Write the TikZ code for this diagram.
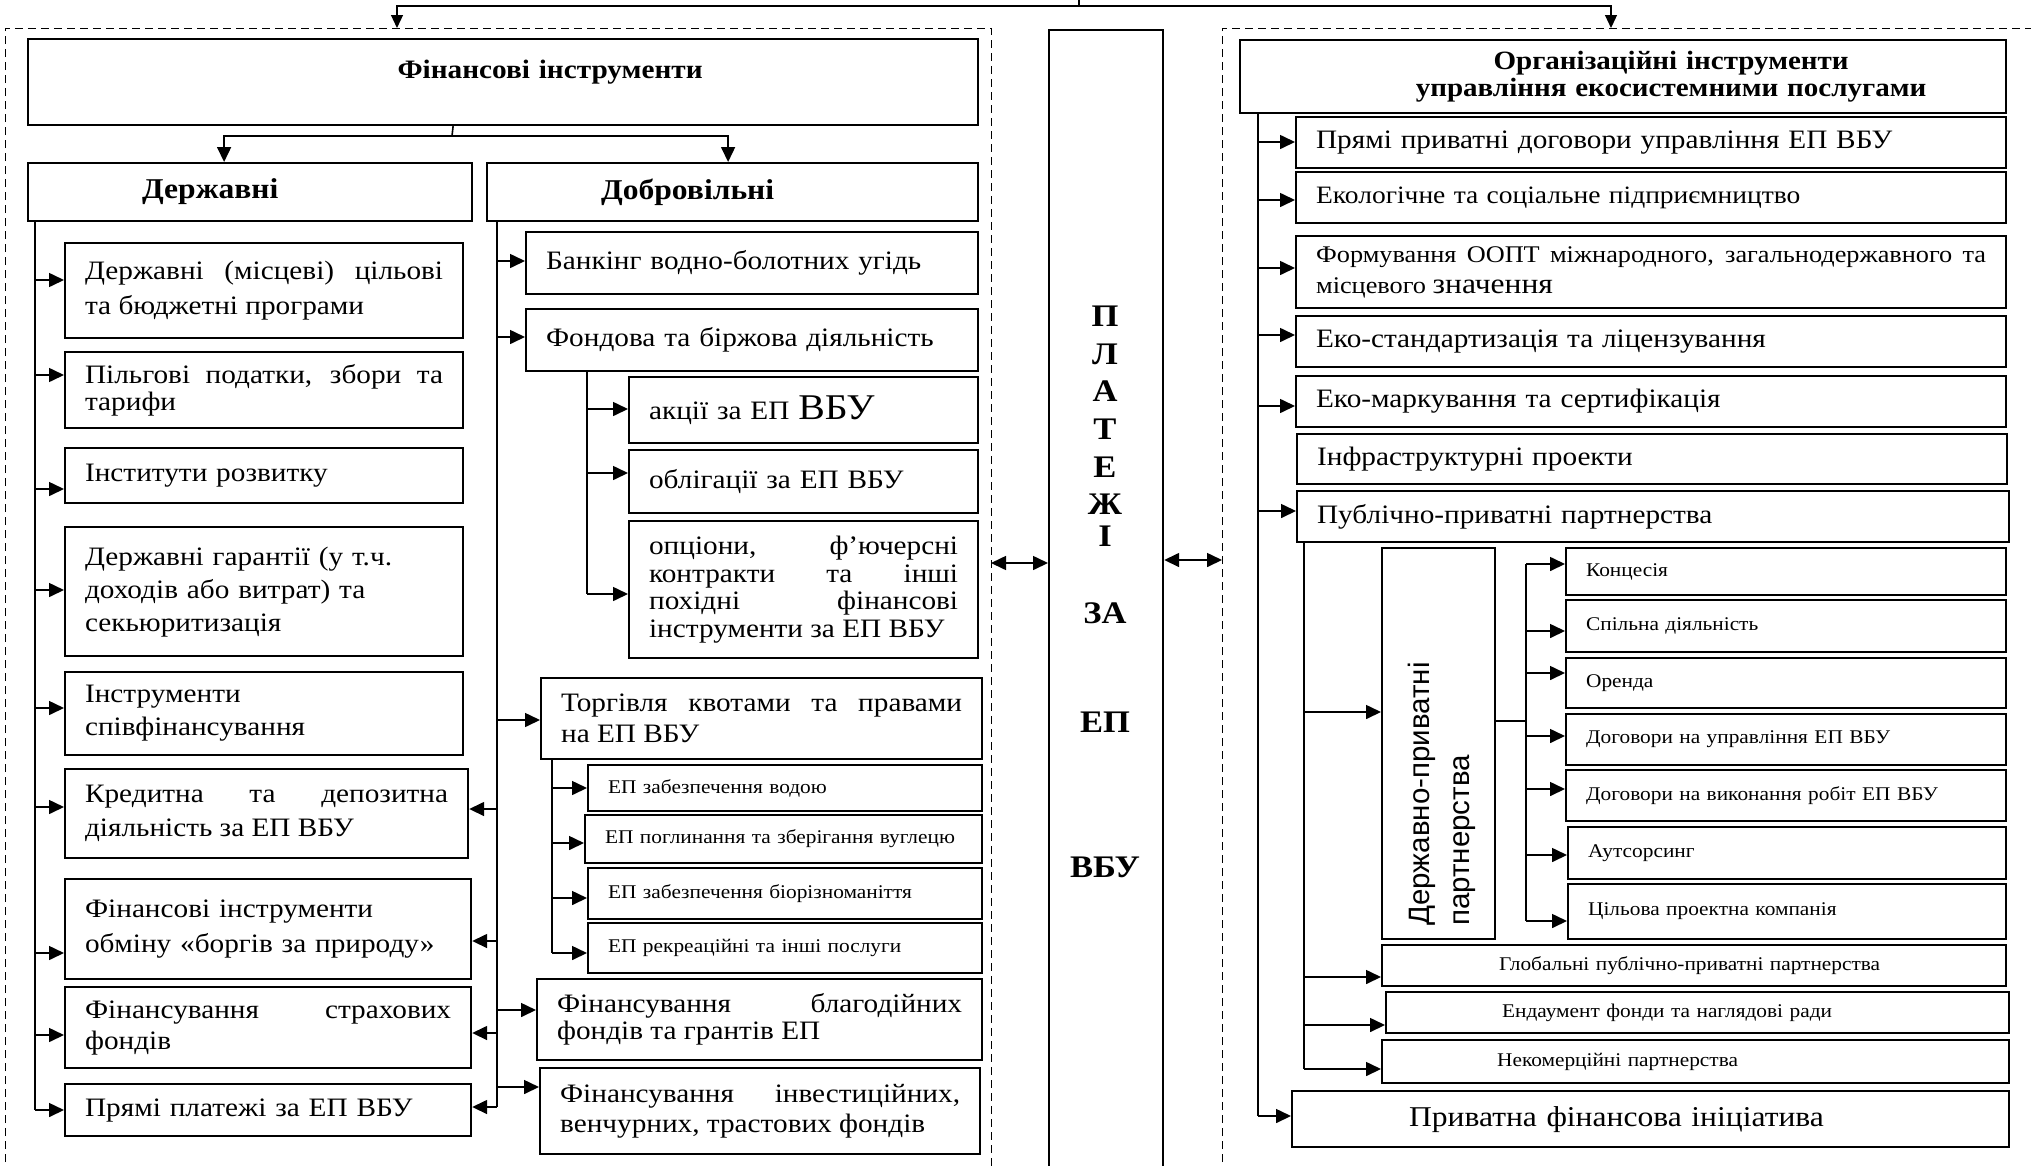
\documentclass[tikz,border=0pt]{standalone}
\usepackage{fontspec}
\setmainfont{Liberation Serif}[FakeStretch=1.1]
\setsansfont{Liberation Sans}
\usetikzlibrary{arrows.meta}
\newcommand\fz[2]{\fontsize{#1pt}{#2pt}\selectfont}
\tikzset{
  box/.style={draw, line width=2.2pt, rectangle, anchor=north west, inner ysep=0pt,
              inner xsep=20pt, align=left, font=\fz{26.6}{30}},
  jbox/.style={box, align=justify},
  conn/.style={line width=1.6pt},
  arr/.style={conn, -{Triangle[length=15pt,width=14pt]}},
  darr/.style={conn, {Triangle[length=15pt,width=14pt]}-{Triangle[length=15pt,width=14pt]}},
  tline/.style={line width=1.2pt},
  tarr/.style={tline, -{Triangle[length=13pt,width=12pt]}},
  frame/.style={line width=1pt, dash pattern=on 8pt off 5pt},
  small/.style={font=\fz{19.4}{22}},
}
\begin{document}
\begin{tikzpicture}[x=1pt,y=-1pt]
\useasboundingbox (0,0) rectangle (2031,1165);
\clip (0,0) rectangle (2031,1165);

% dashed frames of the two instrument groups
\draw[frame] (5,1175) -- (5,28) -- (991,28) -- (991,1175);
\draw[frame] (1222,1175) -- (1222,28) -- (2045,28);

% ---------------- financial instruments ----------------
\node[box, text width=910pt, minimum height=86pt, align=center, font=\bfseries\fz{26.6}{30},
      text height=10pt, text depth=18pt] (fin) at (27,38) {\hspace*{94pt}Фінансові інструменти};
\node[box, text width=404pt, minimum height=58pt, font=\bfseries\fz{28.7}{32}]
      (derzh) at (27,162) {\hspace*{94pt}Державні};
\node[box, text width=451pt, minimum height=58pt, font=\bfseries\fz{28.7}{32}]
      (dobr) at (486,162) {\hspace*{94pt}Добровільні};

% state instruments
\node[jbox, text width=358pt, minimum height=95pt, font=\fz{26.6}{35}] (l1) at (64,242)
  {Державні (місцеві) цільові\linebreak та бюджетні програми};
\node[jbox, text width=358pt, minimum height=76pt, font=\fz{26.6}{27}] (l2) at (64,351)
  {Пільгові податки, збори та\linebreak тарифи};
\node[box, text width=358pt, minimum height=55pt] (l3) at (64,447) {Інститути розвитку};
\node[box, text width=358pt, minimum height=129pt, font=\fz{26.6}{33}] (l4) at (64,526)
  {Державні гарантії (у т.ч.\\доходів або витрат) та\\секьюритизація};
\node[box, text width=358pt, minimum height=83pt, font=\fz{26.6}{33}] (l5) at (64,671)
  {Інструменти\\співфінансування};
\node[jbox, text width=363pt, minimum height=89pt, font=\fz{26.6}{34}] (l6) at (64,768)
  {Кредитна та депозитна\linebreak діяльність за ЕП ВБУ};
\node[box, text width=366pt, minimum height=100pt, font=\fz{26.6}{35}] (l7) at (64,878)
  {Фінансові інструменти\\обміну «боргів за природу»};
\node[jbox, text width=366pt, minimum height=81pt, font=\fz{26.6}{31}] (l8) at (64,986)
  {Фінансування страхових\linebreak фондів};
\node[box, text width=366pt, minimum height=52pt] (l9) at (64,1083) {Прямі платежі за ЕП ВБУ};

% voluntary instruments
\node[box, text width=412pt, minimum height=62pt] (r1) at (525,231) {Банкінг водно-болотних угідь};
\node[box, text width=412pt, minimum height=62pt] (r2) at (525,308) {Фондова та біржова діяльність};
\node[box, text width=309pt, minimum height=66pt] (r3) at (628,376) {акції за ЕП {\fz{36.2}{36}ВБУ}};
\node[box, text width=309pt, minimum height=63pt] (r4) at (628,449) {облігації за ЕП ВБУ};
\node[jbox, text width=309pt, minimum height=137pt, font=\fz{26.6}{27.5}] (r5) at (628,520)
  {опціони, ф’ючерсні\linebreak контракти та інші\linebreak похідні фінансові\linebreak інструменти за ЕП ВБУ};
\node[jbox, text width=401pt, minimum height=81pt, font=\fz{26.6}{31}] (r6) at (540,677)
  {Торгівля квотами та правами\linebreak на ЕП ВБУ};
\node[box, small, text width=354pt, minimum height=46pt] (s1) at (587,764) {ЕП забезпечення водою};
\node[box, small, text width=357pt, minimum height=48pt] (s2) at (584,814) {ЕП поглинання та зберігання вуглецю};
\node[box, small, text width=354pt, minimum height=51pt] (s3) at (587,867) {ЕП забезпечення біорізноманіття};
\node[box, small, text width=354pt, minimum height=50pt] (s4) at (587,922) {ЕП рекреаційні та інші послуги};
\node[jbox, text width=405pt, minimum height=81pt, font=\fz{26.6}{27}] (r7) at (536,978)
  {Фінансування благодійних\linebreak фондів та грантів ЕП};
\node[jbox, text width=400pt, minimum height=86pt, font=\fz{26.6}{30}] (r8) at (539,1067)
  {Фінансування інвестиційних,\linebreak венчурних, трастових фондів};

% ---------------- payments column ----------------
\node[draw, line width=2.2pt, anchor=north west, minimum width=114pt, minimum height=1170pt,
      inner sep=0pt] (pay) at (1048,29) {};
\node[anchor=north, inner sep=0pt, align=center, font=\bfseries\fz{31.4}{37.6}] (paytxt) at (1105,306)
  {П\\Л\\А\\Т\\Е\\Ж\\[-6pt]І\\[39.4pt]ЗА\\[71.4pt]ЕП\\[108pt]ВБУ};

% ---------------- organisational instruments ----------------
\node[box, text width=726pt, minimum height=73pt, align=center, font=\bfseries\fz{26.4}{27}] (org) at (1239,39)
  {\hspace*{96pt}Організаційні інструменти\\\hspace*{96pt}управління екосистемними послугами};
\node[box, text width=670pt, minimum height=51pt] (R1) at (1295,116) {Прямі приватні договори управління ЕП ВБУ};
\node[box, text width=670pt, minimum height=51pt, font=\fz{25}{28}] (R2) at (1295,171) {Екологічне та соціальне підприємництво};
\node[jbox, text width=670pt, minimum height=72pt, font=\fz{23.9}{31}] (R3) at (1295,235)
  {Формування ООПТ міжнародного, загальнодержавного та\linebreak місцевого {\fz{28.7}{31}значення}};
\node[box, text width=670pt, minimum height=51pt] (R4) at (1295,315) {Еко-стандартизація та ліцензування};
\node[box, text width=670pt, minimum height=51pt] (R5) at (1295,375) {Еко-маркування та сертифікація};
\node[box, text width=670pt, minimum height=50pt] (R6) at (1296,433) {Інфраструктурні проекти};
\node[box, text width=672pt, minimum height=51pt] (R7) at (1296,490) {Публічно-приватні партнерства};

\node[draw, line width=2.2pt, anchor=north west, minimum width=113pt, minimum height=391pt,
      inner sep=0pt] (dpp) at (1381,547) {};
\node[rotate=90, anchor=west, inner sep=0pt, align=left, font=\sffamily\fz{29.5}{40}] (dpptxt)
  at (1442,926) {Державно-приватні\\партнерства};

\node[box, small, text width=400pt, minimum height=47pt] (c1) at (1565,547) {Концесія};
\node[box, small, text width=400pt, minimum height=52pt] (c2) at (1565,599) {Спільна діяльність};
\node[box, small, text width=400pt, minimum height=50pt] (c3) at (1565,657) {Оренда};
\node[box, small, text width=400pt, minimum height=51pt] (c4) at (1565,713) {Договори на управління ЕП ВБУ};
\node[box, small, text width=400pt, minimum height=51pt] (c5) at (1565,769) {Договори на виконання робіт ЕП ВБУ};
\node[box, small, text width=398pt, minimum height=52pt] (c6) at (1567,826) {Аутсорсинг};
\node[box, small, text width=398pt, minimum height=55pt] (c7) at (1567,883) {Цільова проектна компанія};

\node[box, small, text width=584pt, minimum height=41pt] (gl) at (1381,944)
  {\hspace*{97pt}Глобальні публічно-приватні партнерства};
\node[box, small, text width=583pt, minimum height=41pt] (en) at (1385,991)
  {\hspace*{96pt}Ендаумент фонди та наглядові ради};
\node[box, small, text width=587pt, minimum height=43pt] (nk) at (1381,1039)
  {\hspace*{95pt}Некомерційні партнерства};
\node[box, text width=677pt, minimum height=56pt, font=\fz{28.7}{32}] (pfi) at (1291,1090)
  {\hspace*{97pt}Приватна фінансова ініціатива};

% ---------------- connectors ----------------
% common source at the top
\coordinate (src) at (1079,-5);
\coordinate (jn) at (1079,6);
\coordinate (topL) at (397,28);
\coordinate (topR) at (1611,28);
\draw[tline] (src) -- (jn);
\draw[tarr] (jn) -| (topL);
\draw[tarr] (jn) -| (topR);

% financial instruments split
\coordinate (fs) at (452,136);
\draw[conn] ([xshift=-50pt]fin.south) -- (fs);
\draw[arr] (fs) -| ([xshift=-26pt]derzh.north);
\draw[arr] (fs) -| ([xshift=-4.5pt]dobr.north);

% state trunk
\coordinate (tL) at (35,220);
\draw[conn] (tL) -- (tL |- 0,1110);
\foreach \n/\y in {l1/280, l2/375, l3/489, l4/590, l5/708, l6/807, l7/953, l8/1035, l9/1110}
  \draw[arr] (tL |- 0,\y) -- (\n.west |- 0,\y);

% voluntary trunk
\coordinate (tR) at (497,220);
\draw[conn] (tR) -- (tR |- 0,1107);
\foreach \n/\y in {r1/261, r2/337, r6/720, r7/1010, r8/1087}
  \draw[arr] (tR |- 0,\y) -- (\n.west |- 0,\y);
\foreach \n/\y in {l6/809, l7/941, l8/1033, l9/1107}
  \draw[arr] (tR |- 0,\y) -- (\n.east |- 0,\y);

% stock exchange branch
\coordinate (tF) at (587,370);
\draw[conn] (tF) -- (tF |- 0,594);
\foreach \n/\y in {r3/409, r4/473, r5/594}
  \draw[arr] (tF |- 0,\y) -- (\n.west |- 0,\y);

% quota trading branch
\coordinate (tT) at (552,758);
\draw[conn] (tT) -- (tT |- 0,953);
\foreach \n/\y in {s1/788, s2/843, s3/898, s4/953}
  \draw[arr] (tT |- 0,\y) -- (\n.west |- 0,\y);

% payments link
\coordinate (fL) at (991,563);
\coordinate (fR) at (1222,560);
\draw[darr] (fL) -- (pay.west |- fL);
\draw[darr] (pay.east |- fR) -- (fR);

% organisational trunk
\coordinate (tO) at (1258,112);
\draw[conn] (tO) -- (tO |- 0,1116);
\foreach \n/\y in {R1/142, R2/200, R3/268, R4/335, R5/406, R7/511, pfi/1116}
  \draw[arr] (tO |- 0,\y) -- (\n.west |- 0,\y);

% public-private partnership branch
\coordinate (tP) at (1304,541);
\draw[conn] (tP) -- (tP |- 0,1069);
\draw[arr] (tP |- 0,712) -- (dpp.west |- 0,712);
\foreach \n/\y in {gl/977, en/1025, nk/1069}
  \draw[arr] (tP |- 0,\y) -- (\n.west |- 0,\y);

% state-private partnership forms
\coordinate (tD) at (1526,564);
\draw[conn] (dpp.east |- 0,721) -- (tD |- 0,721);
\draw[conn] (tD) -- (tD |- 0,921);
\foreach \n/\y in {c1/564, c2/631, c3/673, c4/736, c5/789, c6/855, c7/921}
  \draw[arr] (tD |- 0,\y) -- (\n.west |- 0,\y);
\end{tikzpicture}
\end{document}
